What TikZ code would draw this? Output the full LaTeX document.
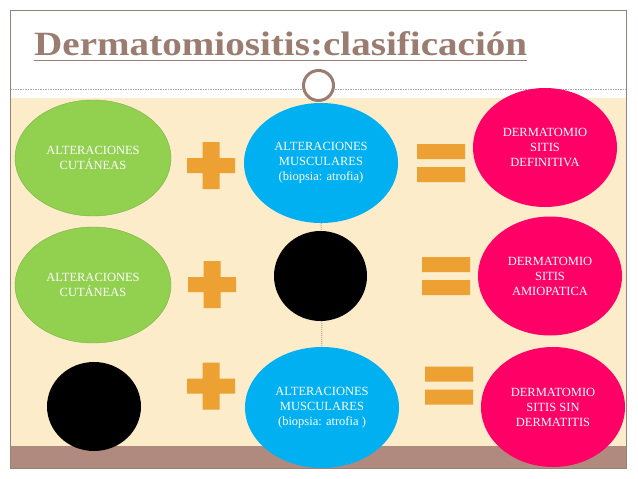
\documentclass[tikz,border=0pt]{standalone}
\usepackage{fontspec}
\setmainfont{Liberation Serif}
\newfontfamily\titlefont{Liberation Serif}[FakeStretch=1.15]
\usetikzlibrary{shapes.geometric,backgrounds}
\definecolor{framec}{RGB}{150,130,120}
\definecolor{titlec}{RGB}{155,124,112}
\definecolor{beige}{RGB}{253,236,201}
\definecolor{bandc}{RGB}{176,138,126}
\definecolor{greenc}{RGB}{146,208,80}
\definecolor{bluec}{RGB}{0,176,240}
\definecolor{pinkc}{RGB}{255,0,102}
\definecolor{orangec}{RGB}{236,161,50}
\tikzset{
  blob/.style={ellipse, inner sep=0pt, align=center, text=white,
    font=\fontsize{12.5}{15}\selectfont},
  greenblob/.style={blob, fill=greenc, draw=greenc!85!black, line width=0.4pt,
    minimum width=156pt, minimum height=116pt},
  blueblob/.style={blob, fill=bluec, minimum width=154pt, minimum height=120pt},
  pinkblob/.style={blob, fill=pinkc, minimum width=144pt, minimum height=119pt},
  blackblob/.style={ellipse, inner sep=0pt, fill=black, minimum width=93pt, minimum height=90pt},
  plussign/.pic={\fill[orangec] (-24,-7.5) rectangle (24,7.5) (-8.5,-23.5) rectangle (8.5,23.5);},
  equalsign/.pic={\fill[orangec] (-24,-19) rectangle (24,-4) (-24,4) rectangle (24,19);}
}
\begin{document}
\begin{tikzpicture}[x=1pt,y=-1pt]
\useasboundingbox (0,0) rectangle (638,479);
\begin{pgfonlayer}{background}
\fill[white] (0,0) rectangle (638,479);
\fill[beige] (10,98) rectangle (626,446);
\fill[bandc] (10,446) rectangle (626,468);
\draw[gray!70, line width=0.6pt, dash pattern=on 1.5pt off 1pt] (10,89) -- (626,89);
\draw[framec, line width=0.9pt] (10,10) rectangle (626,468);
\end{pgfonlayer}
% title
\node[anchor=base west, inner sep=0pt, text=titlec,
  font=\titlefont\fontsize{34}{36}\bfseries\selectfont] (title) at (34,56) {Dermatomiositis:clasificación};
\draw[titlec, line width=1.5pt] ([yshift=-4.5pt]title.base west) -- ([yshift=-4.5pt]title.base east);
\node[circle, draw=titlec, line width=3pt, fill=white, minimum size=30pt, inner sep=0pt] (ring) at (318.5,85.5) {};
% row 1
\node[greenblob] (g1) at (93,158) {ALTERACIONES\\CUTÁNEAS};
\pic (p1) at (211,165.5) {plussign};
\node[blueblob] (b1) at (321,163) {ALTERACIONES\\MUSCULARES\\(biopsia: atrofia)};
\pic (e1) at (441,163) {equalsign};
\node[pinkblob] (r1) at (545,147.5) {DERMATOMIO\\SITIS\\DEFINITIVA};
% row 2
\node[greenblob] (g2) at (93,285) {ALTERACIONES\\CUTÁNEAS};
\pic (p2) at (212,284.5) {plussign};
\node[blackblob] (k2) at (320.5,276) {};
\pic (e2) at (446,276) {equalsign};
\node[pinkblob] (r2) at (550,276) {DERMATOMIO\\SITIS\\AMIOPATICA};
% row 3
\node[blackblob, minimum width=94pt, minimum height=89pt] (k3) at (94,406.5) {};
\pic (p3) at (211,386) {plussign};
\node[blueblob, minimum height=121pt] (b3) at (322,407.5) {ALTERACIONES\\MUSCULARES\\(biopsia: atrofia )};
\pic (e3) at (449,385.5) {equalsign};
\node[pinkblob, minimum height=120pt] (r3) at (553,407) {DERMATOMIO\\SITIS SIN\\DERMATITIS};
% dotted connector behind the middle column
\begin{pgfonlayer}{background}
\draw[black!70, line width=0.5pt, dash pattern=on 1pt off 1pt] (b1.south) -- (b3.north);
\end{pgfonlayer}
\end{tikzpicture}
\end{document}
